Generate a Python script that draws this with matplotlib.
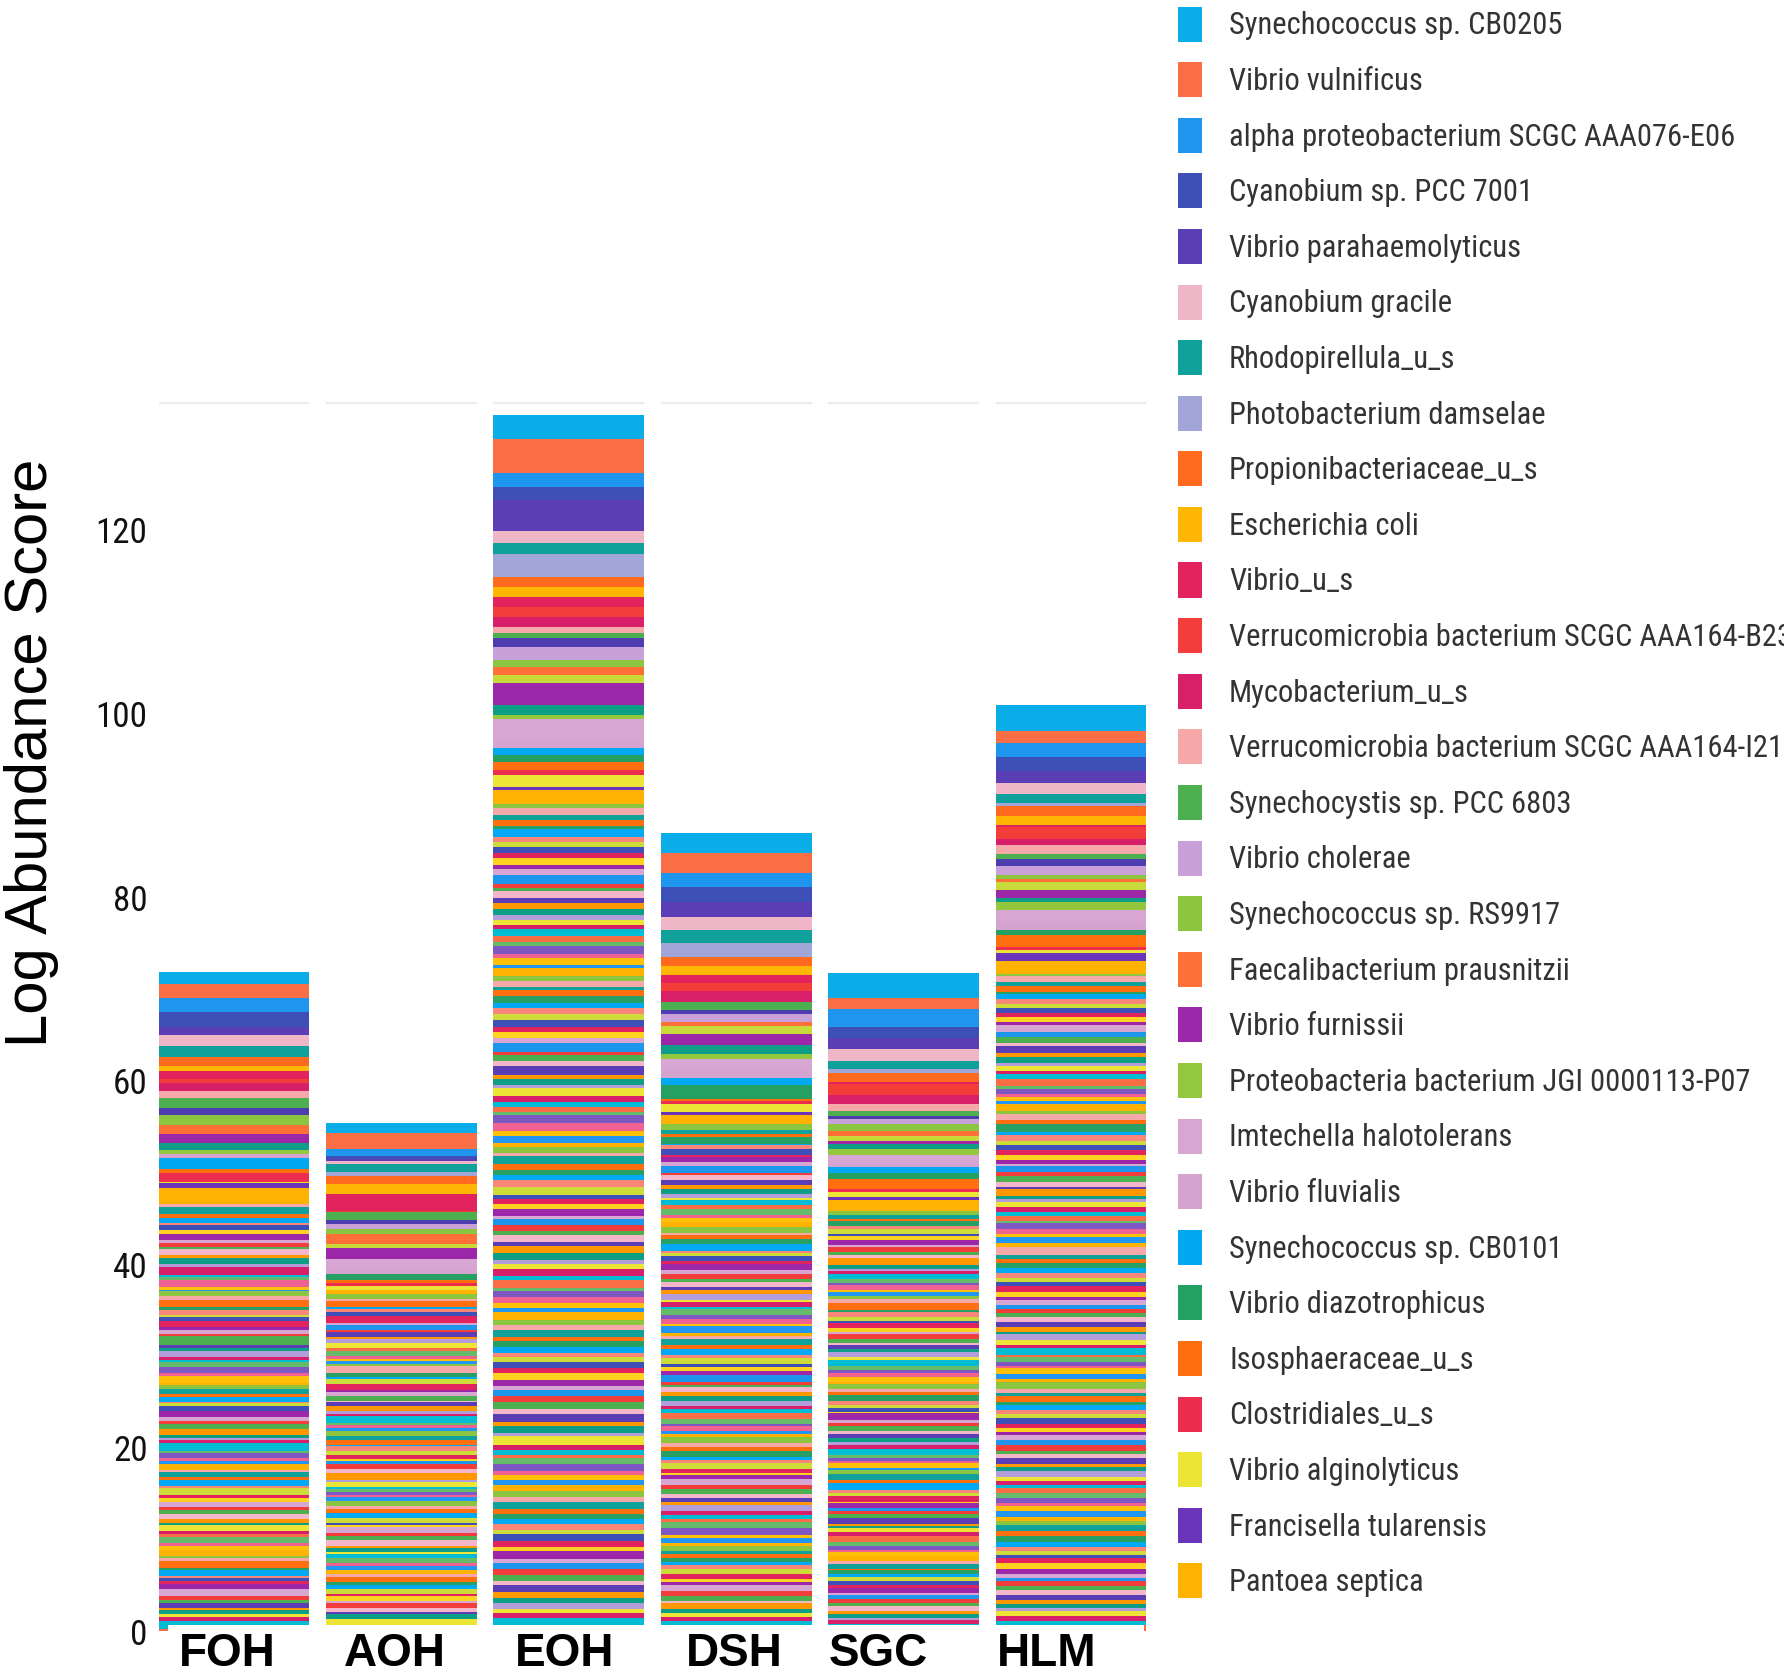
import matplotlib
matplotlib.use("Agg")
import matplotlib.pyplot as plt
from matplotlib.patches import Rectangle
import numpy as np
import logging
logging.getLogger("matplotlib.font_manager").setLevel(logging.ERROR)

# ---------------- data ----------------
samples = ["FOH", "AOH", "EOH", "DSH", "SGC", "HLM"]

# stacked taxa, top of bar first (None = taxon not shown in the visible legend)
top_taxa = [
    "Synechococcus sp. CB0205", "Vibrio vulnificus", "alpha proteobacterium SCGC AAA076-E06",
    "Cyanobium sp. PCC 7001", "Vibrio parahaemolyticus", "Cyanobium gracile",
    "Rhodopirellula_u_s", "Photobacterium damselae", "Propionibacteriaceae_u_s",
    "Escherichia coli", "Vibrio_u_s", "Verrucomicrobia bacterium SCGC AAA164-B23",
    "Mycobacterium_u_s", "Verrucomicrobia bacterium SCGC AAA164-I21", "Synechocystis sp. PCC 6803",
    None, "Vibrio cholerae", "Synechococcus sp. RS9917", "Faecalibacterium prausnitzii",
    None, "Vibrio furnissii", None, "Proteobacteria bacterium JGI 0000113-P07",
    "Imtechella halotolerans", "Vibrio fluvialis", "Synechococcus sp. CB0101",
    "Vibrio diazotrophicus", "Isosphaeraceae_u_s", "Clostridiales_u_s",
    "Vibrio alginolyticus", "Francisella tularensis", "Pantoea septica",
]
top_colors = [
    "#0AADE8", "#FA6E45", "#1E96EE", "#3F4FB8", "#5B3DB5", "#EEB6C6",
    "#0FA19A", "#A1A5D8", "#FF6A1E", "#FFB703", "#E3235E", "#F23D3A",
    "#D81F6A", "#F6A9A8", "#4CAF50", "#4E3DAE", "#C9A0D8", "#8CC53F",
    "#FF7038", "#C8DA3A", "#9C27A8", "#0E9E85", "#93C83E", "#D7A6D3",
    "#D4A3D0", "#03A9F0", "#25A063", "#FF6F10", "#EC2D4E", "#ECE535",
    "#6A35B8", "#FFB300",
]

FOH_top = [1.34, 1.49, 1.53, 1.63, 0.91, 1.23, 1.13, 0, 1.05, 0.47, 0.91, 0.44, 0.84, 0.84, 1.05, 0.73,
           0, 1.09, 1.02, 0, 0.91, 0.84, 0.44, 0, 0.44, 1.13, 0, 0.5, 0.91, 0.2, 0.44, 1.31]
AOH_top = [1.09, 1.74, 0.80, 0.36, 0.15, 0.36, 0.91, 0.36, 0.91, 1.09, 1.82, 0.2, 0, 0, 0.84, 0.44,
           0.47, 0.55, 1.16, 0.44, 1.20, 0, 0, 1.20, 0.36, 0, 0.73, 0.3, 0.3, 0.4, 0, 0.5]
EOH_top = [2.61, 3.63, 1.56, 1.45, 3.34, 1.27, 1.20, 2.54, 1.09, 1.09, 1.09, 1.09, 1.09, 0.62, 0.58, 0.98,
           1.45, 0.73, 0.84, 0.87, 2.40, 1.09, 0.44, 2.54, 0.65, 0.73, 0.80, 0.91, 0.5, 1.3, 0.35, 0.9]
DSH_top = [2.18, 2.18, 1.56, 1.63, 1.56, 1.52, 1.34, 1.56, 0.98, 0.94, 0.87, 0.94, 1.16, 0, 0.91, 0.36,
           0.91, 0, 0.44, 0.84, 1.27, 0.91, 0.54, 1.27, 0.84, 0.73, 1.60, 0.2, 0.3, 0.9, 0.3, 0.6]
SGC_top = [2.65, 1.27, 1.92, 1.16, 1.27, 1.27, 0.91, 0.36, 0.98, 0, 0.3, 1.15, 1.0, 0.8, 0.5, 0.3,
           0.6, 0.7, 0.6, 0.5, 0.4, 0.5, 0.6, 0.9, 0.5, 0.6, 0.7, 1.0, 0.4, 0.5, 0.3, 0.9]
HLM_top = [2.87, 1.27, 1.56, 1.45, 1.34, 1.23, 0.94, 0.36, 1.09, 0.94, 0.2, 1.31, 0.65, 1.05, 0.47, 0.80,
           0.94, 0.44, 0.36, 0.91, 0.84, 0.44, 0.91, 1.27, 0.91, 0, 0.47, 1.34, 0.36, 0.3, 0.84, 0.9]

# the many minor taxa below (same taxon order in every sample)
FOH_rest = [0.5, 0, 0.3, 0.8, 0.4, 0, 0.6, 0.2, 0, 0.5,
            0, 0.4, 0.7, 0.3, 0, 0.5, 0.2, 0.6, 0, 0.4,
            0.6, 0.3, 0, 0.9, 0.2, 0, 0.4, 0, 0.7, 0.3,
            0.2, 0, 0.5, 0.4, 0, 0.8, 0.3, 0, 0.6, 0.2,
            0.4, 0.7, 0, 0.3, 0.5, 0, 0.2, 0.9, 0, 0.4,
            0, 0.3, 0.6, 0, 0.4, 0.2, 0, 0.5, 0.7, 0.3,
            0.8, 0, 0.2, 0.4, 0, 0.6, 0.3, 0, 0.5, 0.2,
            0.3, 0.5, 0, 0, 0.7, 0.4, 0, 0.3, 0.6, 0,
            0, 0.6, 0.4, 0.2, 0, 0.3, 0.9, 0, 0.2, 0.5,
            0.4, 0, 0.3, 0.7, 0, 0.2, 0.5, 0.4, 0, 0.6,
            0.2, 0.8, 0, 0.3, 0.4, 0, 0.6, 0, 0.3, 0.5,
            0.5, 0, 0.4, 0.2, 0, 0.7, 0.3, 0, 0.4, 0.6,
            0, 0.3, 0.5, 0, 0.6, 0.2, 0.4, 0, 0.7, 0.3,
            0.6, 0.2, 0, 0.4, 0.3, 0, 0.5, 0.8, 0, 0.4,
            0.3, 0, 0.6, 0.2, 0.5, 0, 0.3, 0.4, 0.9, 0.2]
AOH_rest = [0, 0.5, 0.3, 0, 0.6, 0, 0.2, 0.4, 0, 0.4,
            0.7, 0, 0, 0.3, 0.5, 0.2, 0, 0, 0.6, 0.2,
            0, 0.4, 0.6, 0, 0, 0.3, 0.5, 0, 0.4, 0.2,
            0.3, 0, 0.2, 0.8, 0, 0, 0.4, 0.3, 0, 0.5,
            0, 0.6, 0, 0.3, 0.4, 0, 0, 0.5, 0.2, 0.4,
            0.5, 0, 0.4, 0, 0.2, 0.7, 0, 0.3, 0, 0.3,
            0, 0.3, 0, 0.6, 0, 0.4, 0.5, 0, 0.2, 0.5,
            0.4, 0, 0.5, 0.2, 0, 0, 0.3, 0.6, 0, 0.4,
            0, 0.7, 0, 0.3, 0.5, 0, 0.2, 0, 0.4, 0.3,
            0.2, 0, 0.4, 0, 0.6, 0.3, 0, 0.5, 0, 0.5,
            0, 0.5, 0.2, 0, 0.3, 0, 0.6, 0, 0.4, 0.4,
            0.6, 0, 0.3, 0.4, 0, 0.2, 0, 0.5, 0, 0.5,
            0, 0.3, 0, 0.5, 0.4, 0, 0.3, 0, 0.6, 0.3,
            0.4, 0, 0.6, 0, 0.2, 0.5, 0, 0.3, 0, 0.5,
            0, 0.4, 0.3, 0, 0.5, 0, 0.6, 0.2, 0, 0.5]
EOH_rest = [0.6, 0.4, 0.8, 0.5, 0.7, 0.3, 0.9, 0.6, 0.5, 0.7,
            0.5, 0.8, 0.4, 0.6, 1.0, 0.5, 0.3, 0.7, 0.6, 0.6,
            0.7, 0.5, 0.6, 0.4, 0.8, 0.6, 0.5, 0.9, 0.4, 0.7,
            0.4, 0.9, 0.5, 0.7, 0.3, 0.6, 0.8, 0.5, 0.7, 0.6,
            0.8, 0.5, 0.7, 0, 0.6, 0.9, 0.4, 0.6, 0.5, 1.0,
            0.5, 0.6, 0.4, 0.8, 0.7, 0.5, 0.6, 0.3, 0.9, 0.8,
            0.6, 0.7, 0.5, 0.6, 0.4, 0.8, 0.7, 0.5, 0.6, 0.7,
            0.9, 0.4, 0.6, 0.5, 0.8, 0.3, 0.7, 0.6, 0.5, 0.7,
            0.5, 0.7, 0.8, 0.4, 0.6, 0.7, 0.5, 0.8, 0.4, 0.6,
            0.7, 0.5, 0.4, 0.9, 0.6, 0.5, 0.8, 0.4, 0.7, 0.6,
            0.4, 0.6, 0.7, 0.5, 0.8, 0.6, 0.4, 0.7, 0.6, 0.8,
            0.6, 0.8, 0.5, 0.7, 0.4, 0.9, 0.6, 0.5, 0.4, 0.6,
            0.8, 0.4, 0.6, 0.5, 0.7, 0.6, 0.5, 0.8, 0.6, 0.5,
            0.5, 0.7, 0.4, 0.8, 0.6, 0.5, 0.9, 0.4, 0.7, 0.6,
            0.6, 0.5, 0.8, 0.6, 0.5, 0.7, 0.4, 0.6, 0.8, 0.6]
DSH_rest = [0.4, 0.6, 0, 0.5, 0.3, 0.7, 0.2, 0.4, 0, 0.6,
            0.3, 0, 0.5, 0.4, 0.8, 0.2, 0, 0.6, 0.5, 0.4,
            0.6, 0.4, 0.3, 0, 0.5, 0.4, 0.7, 0, 0.3, 0.5,
            0, 0.5, 0.6, 0.3, 0, 0.4, 0.5, 0.8, 0.2, 0.4,
            0.5, 0.3, 0, 0.7, 0.4, 0, 0.6, 0.3, 0.5, 0.4,
            0.4, 0, 0.6, 0.3, 0.5, 0.2, 0, 0.7, 0.4, 0.6,
            0.2, 0.7, 0.4, 0, 0.3, 0.6, 0.5, 0, 0.6, 0.4,
            0.6, 0.3, 0, 0.5, 0.4, 0, 0.8, 0.3, 0.2, 0.6,
            0, 0.4, 0.5, 0.6, 0, 0.3, 0.4, 0.7, 0.5, 0.3,
            0.5, 0, 0.3, 0.4, 0.6, 0.5, 0, 0.4, 0.6, 0.4,
            0.3, 0.6, 0, 0.5, 0.2, 0.4, 0.7, 0, 0.4, 0.6,
            0.4, 0.5, 0.3, 0, 0.6, 0, 0.5, 0.4, 0.3, 0.7,
            0.7, 0, 0.4, 0.5, 0.3, 0.6, 0, 0.3, 0.5, 0.4,
            0.3, 0.4, 0.6, 0, 0.5, 0.4, 0.3, 0.6, 0, 0.6,
            0.5, 0.3, 0, 0.6, 0.4, 0, 0.5, 0.4, 0.7, 0.4]
SGC_rest = [0.3, 0.5, 0, 0.4, 0.2, 0.6, 0, 0.3, 0.5, 0.3,
            0, 0.4, 0.6, 0.2, 0, 0.5, 0.3, 0.4, 0, 0.7,
            0.5, 0.2, 0, 0.3, 0.6, 0, 0.4, 0.2, 0.5, 0.3,
            0.4, 0, 0.3, 0.5, 0, 0.7, 0.2, 0, 0.6, 0.4,
            0.2, 0.6, 0.4, 0, 0.3, 0, 0.5, 0.4, 0.2, 0.5,
            0, 0.3, 0.5, 0.4, 0, 0.6, 0, 0.5, 0.3, 0.4,
            0.6, 0, 0.2, 0.5, 0.4, 0, 0.3, 0.6, 0, 0.5,
            0.3, 0.4, 0, 0.2, 0.7, 0.3, 0, 0.4, 0.5, 0.3,
            0.5, 0, 0.4, 0.3, 0, 0.5, 0.6, 0, 0.3, 0.4,
            0.2, 0.5, 0.3, 0, 0.4, 0, 0.7, 0.3, 0, 0.7,
            0.4, 0.3, 0, 0.6, 0.2, 0.5, 0, 0.3, 0.4, 0.4,
            0, 0.6, 0.3, 0.2, 0, 0.4, 0.5, 0, 0.6, 0.4,
            0.5, 0.2, 0.4, 0, 0.6, 0, 0.3, 0.5, 0.2, 0.4,
            0.3, 0, 0.5, 0.4, 0.3, 0, 0.6, 0.2, 0.4, 0.4,
            0.4, 0.5, 0, 0.3, 0.5, 0.2, 0, 0.4, 0.3, 0.5]
HLM_rest = [0.5, 0.3, 0.6, 0.4, 0.7, 0.2, 0.5, 0.6, 0.4, 0.6,
            0.4, 0.6, 0.3, 0.8, 0.5, 0, 0.6, 0.4, 0.7, 0.5,
            0.6, 0.4, 0.5, 0.3, 0.6, 0.7, 0.4, 0.5, 0.3, 0.5,
            0.3, 0.7, 0.4, 0.6, 0, 0.5, 0.8, 0.4, 0.6, 0.5,
            0.5, 0.5, 0.6, 0.4, 0.3, 0.6, 0.4, 0.7, 0.5, 0.3,
            0.7, 0.3, 0.4, 0.5, 0.6, 0.4, 0.5, 0.3, 0.6, 0.5,
            0.4, 0.6, 0.5, 0, 0.8, 0.5, 0.4, 0.6, 0.5, 0.5,
            0.5, 0.4, 0.7, 0.5, 0.3, 0.6, 0.4, 0.5, 0.4, 0.5,
            0.6, 0.5, 0.3, 0.6, 0.5, 0.4, 0.7, 0.3, 0.5, 0.4,
            0.3, 0.6, 0.5, 0.4, 0.7, 0.5, 0.3, 0.6, 0.4, 0.5,
            0.5, 0.4, 0.6, 0.5, 0.4, 0.3, 0.6, 0.5, 0.7, 0.3,
            0.4, 0.7, 0.3, 0.5, 0.6, 0.5, 0.4, 0.3, 0.6, 0.5,
            0.6, 0.3, 0.5, 0.7, 0.4, 0.5, 0, 0.6, 0.5, 0.7,
            0.5, 0.5, 0.4, 0.3, 0.6, 0.7, 0.5, 0.4, 0.3, 0.6,
            0.4, 0.6, 0.5, 0.5, 0.4, 0.3, 0.6, 0.5, 0.5, 0.6]

# colours cycled over the minor taxa
rest_palette = ["#FFB300", "#8CC53F", "#F6A9A8", "#0FA19A", "#FF6F10", "#26A065", "#03A9F4",
                "#F8877A", "#CDDC39", "#3F4FB8", "#E3235E", "#FFD21F", "#9C27A8", "#D7A6D3",
                "#1E96EE", "#F23D3A", "#4CAF50", "#F4B6C8", "#5B3DB5", "#FF9800", "#0E9E85",
                "#B39DDB", "#ECE535", "#D81F6A", "#00BCD4", "#FA6E45", "#66BB6A", "#7E57C2",
                "#F06292", "#FFC107", "#2196F3"]

# ---------------- assemble ----------------
tops = {"FOH": FOH_top, "AOH": AOH_top, "EOH": EOH_top, "DSH": DSH_top, "SGC": SGC_top, "HLM": HLM_top}
rests = {"FOH": FOH_rest, "AOH": AOH_rest, "EOH": EOH_rest, "DSH": DSH_rest, "SGC": SGC_rest, "HLM": HLM_rest}
n_rest = len(FOH_rest)
colors = top_colors + [rest_palette[i % len(rest_palette)] for i in range(n_rest)]
matrix = np.array([tops[s] + rests[s] for s in samples])  # samples x taxa (top first)
n_taxa = matrix.shape[1]

W, H = 1784, 1681
fig = plt.figure(figsize=(W / 100, H / 100), dpi=100)
fig.patch.set_facecolor("white")
renderer = fig.canvas.get_renderer()

narrow = ["Noto Sans ExtraCondensed", "Noto Sans Condensed", "Roboto Condensed",
          "Liberation Sans Narrow", "Liberation Sans"]


def fit_size(text, base, target_w, max_size):
    probe = fig.text(0, 0, text, fontsize=base, family=narrow)
    w = probe.get_window_extent(renderer).width
    probe.remove()
    return min(max_size, base * target_w / w)


legend_fs = fit_size("alpha proteobacterium SCGC AAA076-E06", 24, 506, 24)
tick_fs = fit_size("120", 27, 52, 30)

ymax = 134
ax = fig.add_axes([150.3 / W, 49 / H, 1004.4 / W, 1230.1 / H])
ax.set_xlim(-0.5, len(samples) - 0.5)
ax.set_ylim(0, ymax)
for sp in ax.spines.values():
    sp.set_visible(False)

x = np.arange(len(samples))
bar_w = 0.9

# faint panel-top lines above each bar
ax.hlines([133.8] * len(samples), x - bar_w / 2, x + bar_w / 2, color="#ECECEC", lw=1.6, zorder=1)

# stack from the bottom: last taxon at the base, first taxon on top
bottom = np.zeros(len(samples))
for k in range(n_taxa - 1, -1, -1):
    vals = matrix[:, k]
    ax.bar(x, vals, bar_w, bottom=bottom, color=colors[k], linewidth=0, zorder=2)
    bottom += vals

ax.set_xticks([])
ax.set_yticks([0, 20, 40, 60, 80, 100, 120])
ax.tick_params(axis="y", length=0, pad=2, labelsize=tick_fs, labelcolor="#111111",
               labelfontfamily=narrow)

# white band under the bars where the sample labels sit
ax.add_artist(Rectangle((168 / W, 0), (1144 - 168) / W, (H - 1626) / H,
                        transform=fig.transFigure, facecolor="white", edgecolor="none",
                        zorder=5, clip_on=False))

label_nudge = [-0.042, -0.042, -0.027, -0.012, -0.149, -0.143]
for xi, s, dx in zip(x, samples, label_nudge):
    ax.text(xi + dx, -22 / 1230.1, s, transform=ax.get_xaxis_transform(), ha="center", va="center",
            fontsize=33, fontweight="bold", family="Liberation Sans", color="black",
            zorder=20, clip_on=False)

fig.text(32 / W, 1 - 753 / H, "Log Abundance Score", rotation=90, ha="center", va="center",
         fontsize=43, family="Liberation Sans", color="black")

# legend (first visible entries, cut at the figure edge like the original)
legend_names = [t for t in top_taxa if t is not None]
legend_colors = [c for t, c in zip(top_taxa, top_colors) if t is not None]
for i, (name, col) in enumerate(zip(legend_names, legend_colors)):
    yc = 25 + i * 55.6
    fig.add_artist(Rectangle((1178 / W, 1 - (yc + 17.5) / H), 24 / W, 35 / H,
                             transform=fig.transFigure, facecolor=col, edgecolor="none"))
    fig.text(1229 / W, 1 - (yc + 1) / H, name, ha="left", va="center", fontsize=legend_fs,
             family=narrow, color="#333333")

fig.savefig("out.png", dpi=100)
